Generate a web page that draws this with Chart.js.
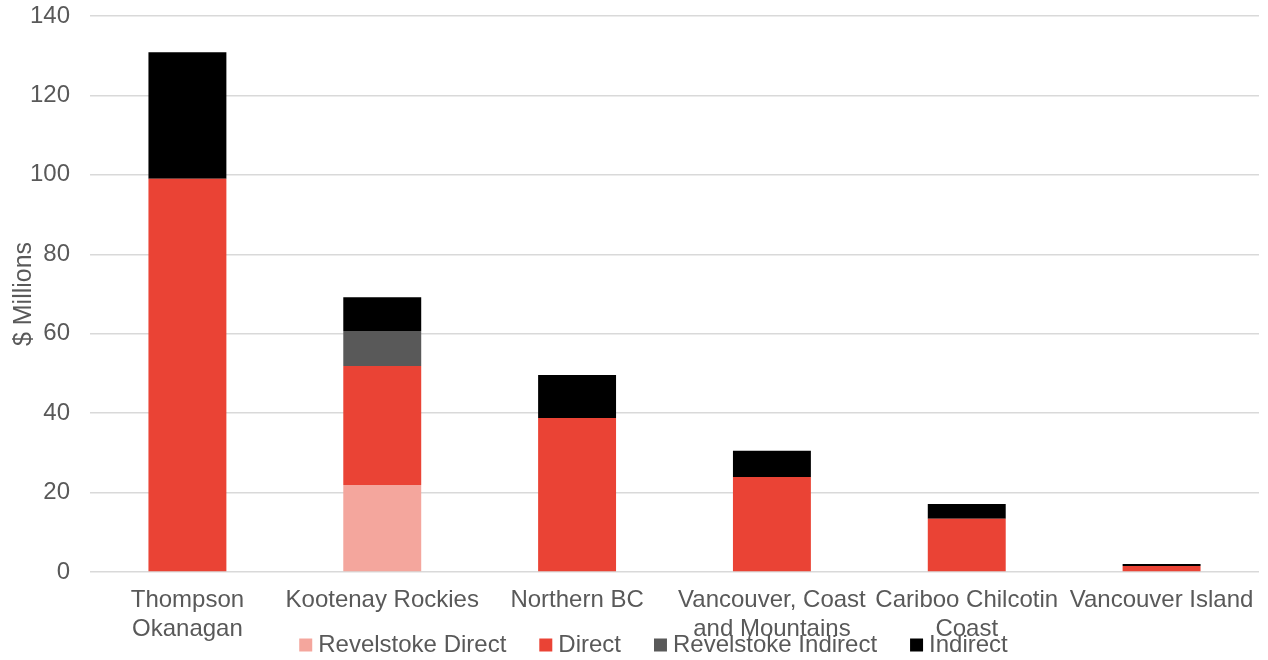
<!DOCTYPE html>
<html>
<head>
<meta charset="utf-8">
<title>Regional spending</title>
<script src="https://cdn.jsdelivr.net/npm/chart.js@4"></script>
<style>
  body { margin: 0; background: #fff; }
  #wrap { width: 1268px; height: 660px; position: relative; }
</style>
</head>
<body>
<div id="wrap"><canvas id="regionChart"></canvas></div>
<script>
const regions = [
    ["Thompson", "Okanagan"],
    "Kootenay Rockies",
    "Northern BC",
    ["Vancouver, Coast", "and Mountains"],
    ["Cariboo Chilcotin", "Coast"],
    "Vancouver Island"
];

// $ millions per region
const revelstokeDirect   = [0, 21.9, 0, 0, 0, 0];
const direct             = [99, 30, 38.8, 23.9, 13.4, 1.5];
const revelstokeIndirect = [0, 8.8, 0, 0, 0, 0];
const indirect           = [31.9, 8.5, 10.8, 6.6, 3.7, 0.5];

const yTicks = { min: 0, max: 140, step: 20 };

const textColor = "#595959";
const fontFamily = "'Liberation Sans', Arial, sans-serif";

// legend takes no layout space; it is placed over the bottom of the x labels
const legendTweak = {
    id: "legendTweak",
    beforeInit(chart) {
        const fit = chart.legend.fit;
        chart.legend.fit = function () {
            fit.call(this);
            this.height = 0;
        };
    },
    afterLayout(chart) {
        const lg = chart.legend;
        lg.top = 594;
        lg.bottom = 660;
        lg.height = 66;
        lg.left += 26;
        lg.right += 26;
    }
};

new Chart(document.getElementById("regionChart"), {
    type: "bar",
    data: {
        labels: regions,
        datasets: [
            { label: "Revelstoke Direct", data: revelstokeDirect, backgroundColor: "#F4A69D" },
            { label: "Direct", data: direct, backgroundColor: "#EA4335" },
            { label: "Revelstoke Indirect", data: revelstokeIndirect, backgroundColor: "#595959" },
            { label: "Indirect", data: indirect, backgroundColor: "#000000" }
        ]
    },
    options: {
        responsive: true,
        maintainAspectRatio: false,
        animation: false,
        datasets: {
            bar: { categoryPercentage: 1, barPercentage: 0.4, borderWidth: 0 }
        },
        layout: { padding: { top: 16, right: 7, left: 0, bottom: 0 } },
        plugins: {
            legend: {
                position: "bottom",
                labels: {
                    color: textColor,
                    font: { family: fontFamily, size: 24 },
                    usePointStyle: true,
                    pointStyle: "rect",
                    boxWidth: 1,
                    boxHeight: 13,
                    padding: 39
                }
            },
            tooltip: { enabled: false }
        },
        scales: {
            x: {
                stacked: true,
                grid: { display: false, drawTicks: false },
                border: { display: false },
                ticks: {
                    color: textColor,
                    font: { family: fontFamily, size: 24 },
                    padding: 14,
                    maxRotation: 0,
                    autoSkip: false
                },
                afterFit(scale) { scale.height = 88; }
            },
            y: {
                stacked: true,
                min: yTicks.min,
                max: yTicks.max,
                ticks: {
                    stepSize: yTicks.step,
                    color: textColor,
                    font: { family: fontFamily, size: 24 },
                    padding: 20
                },
                grid: { color: "#d9d9d9", lineWidth: 1.5, drawTicks: false },
                border: { display: false },
                title: {
                    display: true,
                    text: "$ Millions",
                    color: textColor,
                    font: { family: fontFamily, size: 25 },
                    padding: { top: 9 }
                },
                afterFit(scale) {
                    scale.width = 90;
                    scale.paddingTop = 0;
                    scale.paddingBottom = 0;
                }
            }
        }
    },
    plugins: [legendTweak]
});
</script>
</body>
</html>
